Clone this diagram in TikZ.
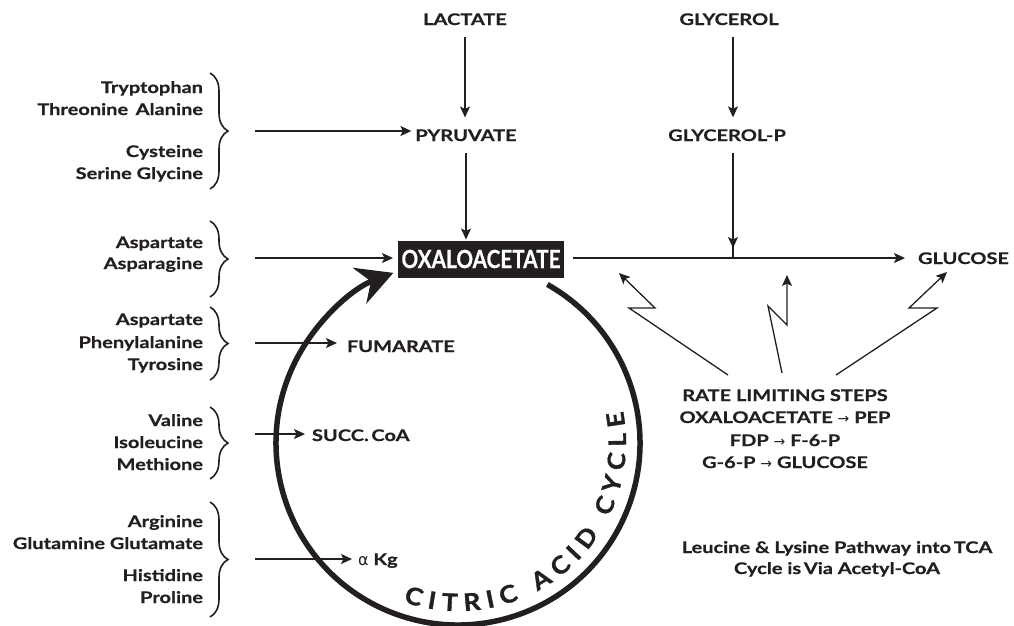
\documentclass[tikz,border=0pt]{standalone}
\usepackage{fontspec}
\setmainfont{Lato}[FakeStretch=1.25, BoldFeatures={FakeBold=0.6}]
\newfontfamily\oxafont{Lato}[BoldFeatures={FakeBold=0.6}]
\newfontfamily\cycfont{Lato}[FakeStretch=1.1, BoldFeatures={FakeBold=1.4}]
\newfontfamily\dejavu{DejaVu Sans}
\usetikzlibrary{arrows.meta,decorations.pathreplacing,decorations.text}
\definecolor{ink}{HTML}{231F20}
\begin{document}
\begin{tikzpicture}[x=1pt,y=-1pt,
  font=\bfseries\fontsize{16}{18}\selectfont,
  lbl/.style={inner sep=0pt, outer sep=0pt, text=ink},
  ln/.style={draw=ink, line width=1.3pt},
  arr/.style={draw=ink, line width=1.3pt, -{Stealth[length=11pt,width=10pt,inset=2.5pt]}},
  brc/.style={draw=ink, line width=1.6pt, decorate, decoration={brace, amplitude=18pt, aspect=0.5}},
  cyc/.style={draw=ink, line width=5.5pt},
]
\useasboundingbox (0,0) rectangle (1014,625);
\newcommand\rarr{{\dejavu\mdseries\fontsize{14}{14}\selectfont →}}

% top metabolites
\node[lbl, anchor=base] (lac) at (465,25) {LACTATE};
\node[lbl, anchor=base] (pyr) at (466,141) {PYRUVATE};
\node[lbl, anchor=base] (gly) at (729,25) {GLYCEROL};
\node[lbl, anchor=base] (glyp) at (727,141) {GLYCEROL-P};
\node[lbl, anchor=base west] (glu) at (918,264) {GLUCOSE};
\node[lbl, fill=ink, text=white, minimum width=166pt, minimum height=37pt] (oxa) at (481,259)
  {\oxafont\bfseries\fontsize{25}{25}\selectfont\scalebox{0.83}[1]{OXALOACETATE}};

\node[lbl, anchor=base west] (fum) at (347,352) {FUMARATE};
\node[lbl, anchor=base west] (suc) at (312,441) {SUCC.\,CoA};
\node[lbl, anchor=base west] (akg) at (358,565) {{\dejavu\mdseries α} Kg};

% left labels
\node[lbl, anchor=base east] (t1) at (203,93) {Tryptophan};
\node[lbl, anchor=base east] (t2) at (203,115) {Threonine\, Alanine};
\node[lbl, anchor=base east] (t3) at (203,157) {Cysteine};
\node[lbl, anchor=base east] (t4) at (203,179) {Serine Glycine};
\node[lbl, anchor=base east] (a1) at (203,248) {Aspartate};
\node[lbl, anchor=base east] (a2) at (203,269) {Asparagine};
\node[lbl, anchor=base east] (p1) at (203,325) {Aspartate};
\node[lbl, anchor=base east] (p2) at (203,348) {Phenylalanine};
\node[lbl, anchor=base east] (p3) at (203,370) {Tyrosine};
\node[lbl, anchor=base east] (v1) at (203,426) {Valine};
\node[lbl, anchor=base east] (v2) at (203,448) {Isoleucine};
\node[lbl, anchor=base east] (v3) at (203,470) {Methione};
\node[lbl, anchor=base east] (g1) at (203,527) {Arginine};
\node[lbl, anchor=base east] (g2) at (203,549) {Glutamine Glutamate};
\node[lbl, anchor=base east] (g3) at (203,581) {Histidine};
\node[lbl, anchor=base east] (g4) at (203,603) {Proline};

% braces
\draw[brc] (210,73) -- (210,189);
\draw[brc] (210,221) -- (210,297);
\draw[brc] (210,307) -- (210,380);
\draw[brc] (210,407) -- (210,479);
\draw[brc] (210,502) -- (210,617);
\coordinate (b1) at (228,131);
\coordinate (b2) at (228,258);
\coordinate (b3) at (228,343);
\coordinate (b4) at (228,434);
\coordinate (b5) at (228,559);

% rate limiting text
\node[lbl, anchor=base] (r1) at (785,401) {RATE LIMITING STEPS};
\node[lbl, anchor=base] (r2) at (785,423) {OXALOACETATE \rarr{} PEP};
\node[lbl, anchor=base] (r3) at (785,446) {FDP \rarr{} F-6-P};
\node[lbl, anchor=base] (r4) at (785,468) {G-6-P \rarr{} GLUCOSE};

\node[lbl, anchor=base] (leu1) at (837,553) {Leucine \& Lysine Pathway into\,TCA};
\node[lbl, anchor=base] (leu2) at (837,574) {Cycle is\,Via Acetyl-CoA};

% main connectors
\draw[arr, shorten <=12pt, shorten >=12pt] (lac.south) -- (lac.south |- pyr.north);
\draw[arr, shorten <=12pt, shorten >=1pt] (pyr.south) -- (pyr.south |- oxa.north);
\coordinate (jn) at (733,258);
\draw[arr, shorten <=12pt, shorten >=12pt] (gly.south -| jn) -- (jn |- glyp.north);
\draw[arr, shorten <=12pt, shorten >=10pt] (glyp.south -| jn) -- (jn);
\draw[ln] (jn) -- ++(0,-12);
\draw[arr, shorten <=9pt, shorten >=13pt] (oxa.east |- jn) -- (glu.west |- jn);

% left inputs
\draw[arr, shorten <=27pt, shorten >=4pt] (b1) -- (pyr.west |- b1);
\draw[arr, shorten <=27pt, shorten >=5pt] (b2) -- (oxa.west |- b2);
\draw[arr, shorten <=27pt, shorten >=10pt] (b3) -- (fum.west |- b3);
\draw[arr, shorten <=27pt, shorten >=7pt] (b4) -- (suc.west |- b4);
\draw[arr, shorten <=27pt, shorten >=6pt] (b5) -- (akg.west |- b5);

% zigzag arrows
\coordinate (z1a) at (728,375); \coordinate (z1b) at (629,308); \coordinate (z1c) at (655,308); \coordinate (z1d) at (619,273);
\coordinate (z2a) at (782,373); \coordinate (z2b) at (768,306); \coordinate (z2c) at (787,325); \coordinate (z2d) at (787,275);
\coordinate (z3a) at (836,375); \coordinate (z3b) at (937,308); \coordinate (z3c) at (909,308); \coordinate (z3d) at (947,272);
\draw[arr, line join=miter] (z1a) -- (z1b) -- (z1c) -- (z1d);
\draw[arr, line join=miter] (z2a) -- (z2b) -- (z2c) -- (z2d);
\draw[arr, line join=miter] (z3a) -- (z3b) -- (z3c) -- (z3d);

% citric acid cycle
\coordinate (cc) at (458,443);
\draw[cyc, -{Stealth[length=36pt,width=38pt,inset=12pt]}] (cc) ++(-60.6:182) arc (-60.6:249.2:182);
\path[font=\cycfont\bfseries\fontsize{24}{24}\selectfont,
  decorate, decoration={text along path, text align={fit to path},
  text={|\cycfont\bfseries\fontsize{24}{24}\selectfont\color{ink}|CITRIC ACID CYCLE}}]
  (cc) ++(109:168) arc (109:-11:168);
\end{tikzpicture}
\end{document}
